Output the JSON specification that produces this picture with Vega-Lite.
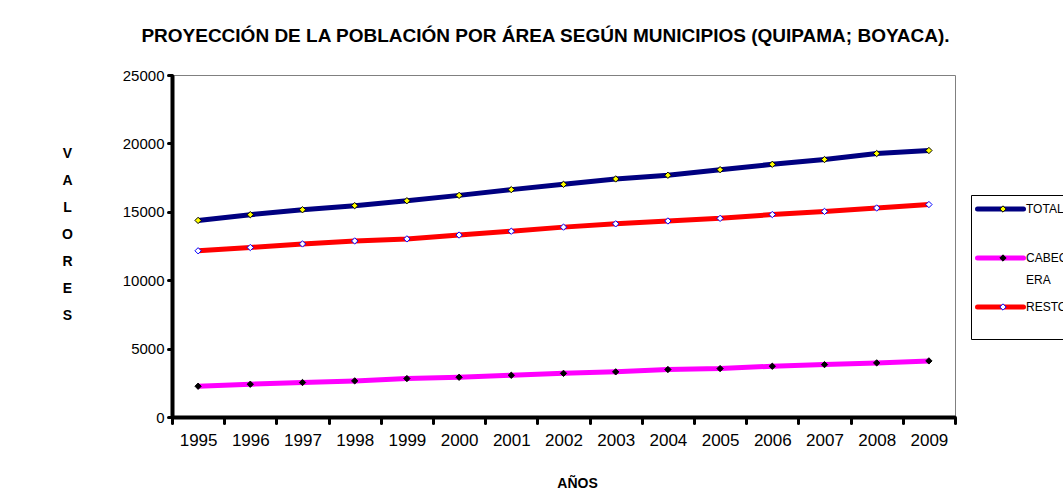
{
  "$schema": "https://vega.github.io/schema/vega-lite/v6.json",
  "width": 783,
  "height": 342,
  "autosize": {"type": "none"},
  "padding": {"left": 172, "top": 75, "right": 108, "bottom": 81},
  "background": "white",
  "title": {
    "text": "PROYECCIÓN DE LA POBLACIÓN POR ÁREA SEGÚN MUNICIPIOS (QUIPAMA; BOYACA).",
    "font": "Liberation Sans",
    "fontSize": 19,
    "fontWeight": "bold",
    "color": "black",
    "anchor": "middle",
    "frame": "group",
    "dx": -18,
    "offset": 22
  },
  "config": {
    "view": {"stroke": "#808080", "strokeWidth": 1},
    "font": "Liberation Sans",
    "axis": {"grid": false, "labelColor": "black", "titleColor": "black", "domainColor": "black", "tickColor": "black"}
  },
  "data": {
    "values": [
      {"year": "1995", "serie": "TOTAL", "value": 14370},
      {"year": "1996", "serie": "TOTAL", "value": 14790},
      {"year": "1997", "serie": "TOTAL", "value": 15150},
      {"year": "1998", "serie": "TOTAL", "value": 15450},
      {"year": "1999", "serie": "TOTAL", "value": 15810},
      {"year": "2000", "serie": "TOTAL", "value": 16200},
      {"year": "2001", "serie": "TOTAL", "value": 16620},
      {"year": "2002", "serie": "TOTAL", "value": 17010},
      {"year": "2003", "serie": "TOTAL", "value": 17400},
      {"year": "2004", "serie": "TOTAL", "value": 17670},
      {"year": "2005", "serie": "TOTAL", "value": 18080},
      {"year": "2006", "serie": "TOTAL", "value": 18470},
      {"year": "2007", "serie": "TOTAL", "value": 18820},
      {"year": "2008", "serie": "TOTAL", "value": 19260},
      {"year": "2009", "serie": "TOTAL", "value": 19480},
      {"year": "1995", "serie": "CABECERA", "value": 2250},
      {"year": "1996", "serie": "CABECERA", "value": 2395},
      {"year": "1997", "serie": "CABECERA", "value": 2520},
      {"year": "1998", "serie": "CABECERA", "value": 2640},
      {"year": "1999", "serie": "CABECERA", "value": 2810},
      {"year": "2000", "serie": "CABECERA", "value": 2905},
      {"year": "2001", "serie": "CABECERA", "value": 3050},
      {"year": "2002", "serie": "CABECERA", "value": 3190},
      {"year": "2003", "serie": "CABECERA", "value": 3300},
      {"year": "2004", "serie": "CABECERA", "value": 3470},
      {"year": "2005", "serie": "CABECERA", "value": 3540},
      {"year": "2006", "serie": "CABECERA", "value": 3710},
      {"year": "2007", "serie": "CABECERA", "value": 3830},
      {"year": "2008", "serie": "CABECERA", "value": 3955},
      {"year": "2009", "serie": "CABECERA", "value": 4100},
      {"year": "1995", "serie": "RESTO", "value": 12150},
      {"year": "1996", "serie": "RESTO", "value": 12390},
      {"year": "1997", "serie": "RESTO", "value": 12650},
      {"year": "1998", "serie": "RESTO", "value": 12870},
      {"year": "1999", "serie": "RESTO", "value": 13020},
      {"year": "2000", "serie": "RESTO", "value": 13300},
      {"year": "2001", "serie": "RESTO", "value": 13580},
      {"year": "2002", "serie": "RESTO", "value": 13880},
      {"year": "2003", "serie": "RESTO", "value": 14120},
      {"year": "2004", "serie": "RESTO", "value": 14330},
      {"year": "2005", "serie": "RESTO", "value": 14520},
      {"year": "2006", "serie": "RESTO", "value": 14800},
      {"year": "2007", "serie": "RESTO", "value": 15030},
      {"year": "2008", "serie": "RESTO", "value": 15280},
      {"year": "2009", "serie": "RESTO", "value": 15530}
    ]
  },
  "encoding": {
    "x": {
      "field": "year",
      "type": "ordinal",
      "scale": {"paddingInner": 0, "paddingOuter": 0},
      "axis": {
        "title": "AÑOS",
        "titleFontSize": 14,
        "titleFontWeight": "bold",
        "titleX": 405,
        "titleY": 66,
        "titleBaseline": "middle",
        "labelAngle": 0,
        "labelFontSize": 17,
        "labelPadding": 9,
        "domainWidth": 4,
        "tickWidth": 3,
        "tickSize": 6,
        "tickCap": "round",
        "tickBand": "extent"
      }
    },
    "y": {
      "field": "value",
      "type": "quantitative",
      "scale": {"domain": [0, 25000], "nice": false},
      "axis": {
        "values": [0, 5000, 10000, 15000, 20000, 25000],
        "format": "d",
        "title": ["V", "A", "L", "O", "R", "E", "S"],
        "titleAngle": 0,
        "titleFontSize": 14,
        "titleFontWeight": "bold",
        "titleLineHeight": 27,
        "titleAlign": "center",
        "titleBaseline": "middle",
        "titleX": -105,
        "titleY": 78,
        "labelFontSize": 15,
        "labelPadding": 4,
        "domainWidth": 4,
        "tickWidth": 3,
        "tickSize": 4,
        "tickCap": "round"
      }
    }
  },
  "layer": [
    {
      "mark": {"type": "line", "strokeWidth": 5},
      "encoding": {
        "stroke": {
          "field": "serie",
          "type": "nominal",
          "scale": {"domain": ["TOTAL", "CABECERA", "RESTO"], "range": ["#000080", "#FF00FF", "#FF0000"]},
          "legend": {
            "orient": "none",
            "legendX": 799,
            "legendY": 120,
            "title": null,
            "symbolType": "stroke",
            "symbolSize": 2116,
            "symbolStrokeWidth": 5,
            "labelFont": "Liberation Sans",
            "labelFontSize": 12,
            "labelColor": "black",
            "labelOffset": 0,
            "labelExpr": "datum.label == 'CABECERA' ? ['CABEC', 'ERA'] : [datum.label, '']",
            "rowPadding": 11,
            "padding": 4,
            "strokeColor": "black",
            "fillColor": "white",
            "encode": {
              "symbols": {"update": {"strokeCap": {"value": "round"}, "y": {"value": 10}}},
              "labels": {"update": {"y": {"value": 10}, "lineHeight": {"value": 22}}}
            }
          }
        }
      }
    },
    {
      "mark": {"type": "point", "shape": "diamond", "filled": true, "size": 40, "strokeWidth": 1, "opacity": 1},
      "encoding": {
        "fill": {
          "field": "serie",
          "type": "nominal",
          "scale": {"domain": ["TOTAL", "CABECERA", "RESTO"], "range": ["#FFFF00", "#000000", "#FFFFFF"]},
          "legend": {
            "orient": "none",
            "legendX": 799,
            "legendY": 120,
            "title": null,
            "symbolType": "diamond",
            "symbolSize": 40,
            "symbolStrokeWidth": 1,
            "symbolOffset": 18,
            "labelFont": "Liberation Sans",
            "labelFontSize": 20,
            "labelOpacity": 0,
            "labelOffset": 0,
            "labelExpr": "' '",
            "rowPadding": 29,
            "padding": 4
          }
        },
        "stroke": {
          "field": "serie",
          "type": "nominal",
          "scale": {"domain": ["TOTAL", "CABECERA", "RESTO"], "range": ["#000000", "#000000", "#0000FF"]},
          "legend": null
        }
      }
    }
  ],
  "resolve": {"scale": {"stroke": "independent", "fill": "independent"}}
}
